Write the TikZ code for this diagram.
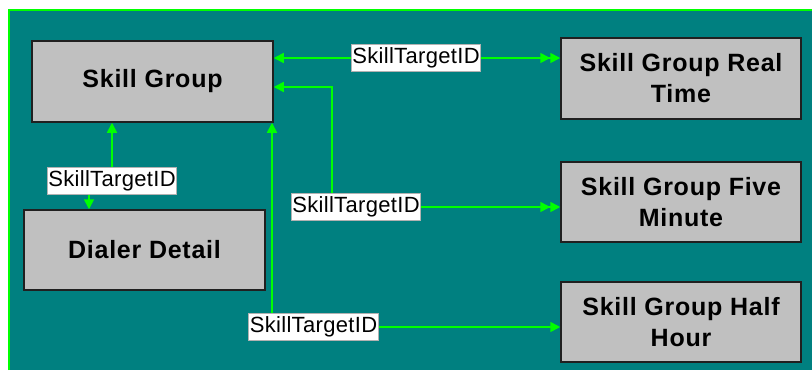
\documentclass[tikz,border=0pt]{standalone}
\usepackage{fontspec}
\setmainfont{Liberation Sans}
\newfontfamily\boxfont[LetterSpace=3]{Liberation Sans}
\newfontfamily\lblfont[LetterSpace=1.5]{Liberation Sans}
\usetikzlibrary{arrows.meta}
\definecolor{teal0}{HTML}{008080}
\definecolor{lime0}{HTML}{00FF00}
\definecolor{boxgray}{HTML}{C0C0C0}
\definecolor{boxedge}{HTML}{202020}
\tikzset{
  tbl/.style={draw=boxedge, line width=1.5pt, fill=boxgray, align=center,
    inner sep=0pt, font=\boxfont\fontsize{25}{31}\selectfont\bfseries},
  conn/.style={draw=lime0, line width=1.6pt},
  lbl/.style={fill=white, draw=gray!60, line width=0.6pt, inner xsep=1pt,
    inner ysep=0pt, minimum height=27pt, font=\lblfont\fontsize{22}{26}\selectfont}
}
\begin{document}
\begin{tikzpicture}[x=1pt,y=-1pt]
\useasboundingbox (0,0) rectangle (812,370);
\fill[white] (0,0) rectangle (812,370);
\fill[teal0] (9,10) rectangle (812,370);
\draw[lime0, line width=2pt] (9,370) -- (9,10) -- (812,10);

\node[tbl, minimum width=241pt, minimum height=81pt] (sg) at (152.5,81.5) {Skill Group};
\node[tbl, minimum width=241pt, minimum height=80pt] (dd) at (144.5,250) {Dialer Detail};
\node[tbl, minimum width=240pt, minimum height=81pt] (rt) at (681,78.5) {Skill Group Real\\Time};
\node[tbl, minimum width=240pt, minimum height=80pt] (fm) at (681,202) {Skill Group Five\\Minute};
\node[tbl, minimum width=240pt, minimum height=80pt] (hh) at (681,322) {Skill Group Half\\Hour};

\coordinate (l1) at (416,58);
\coordinate (c2a) at (332,87);
\coordinate (c2b) at (332,207);
\coordinate (l2) at (356,207);
\coordinate (c3) at (272,327);
\coordinate (l3) at (313.5,327);
\coordinate (c4a) at (112,181);
\coordinate (c4b) at (89,181);

\draw[conn, {Triangle[length=10pt,width=10pt]}-{Triangle[length=10pt,width=10pt]Triangle[length=10pt,width=10pt]}] (sg.east |- l1) -- (rt.west |- l1);
\draw[conn, {Triangle[length=10pt,width=10pt]}-{Triangle[length=10pt,width=10pt]Triangle[length=10pt,width=10pt]}] (sg.east |- c2a) -- (c2a) -- (c2b) -- (fm.west |- c2b);
\draw[conn, {Triangle[length=10pt,width=10pt]}-{Triangle[length=10pt,width=10pt]}] (sg.south -| c3) -- (c3) -- (hh.west |- c3);
\draw[conn, {Triangle[length=10pt,width=10pt]}-{Triangle[length=10pt,width=10pt]}] (sg.south -| c4a) -- (c4a) -- (c4b) -- (dd.north -| c4b);

\node[lbl] (t1) at (l1) {SkillTargetID};
\node[lbl] (t2) at (l2) {SkillTargetID};
\node[lbl] (t3) at (l3) {SkillTargetID};
\node[lbl] (t4) at (c4a) {SkillTargetID};
\end{tikzpicture}
\end{document}
